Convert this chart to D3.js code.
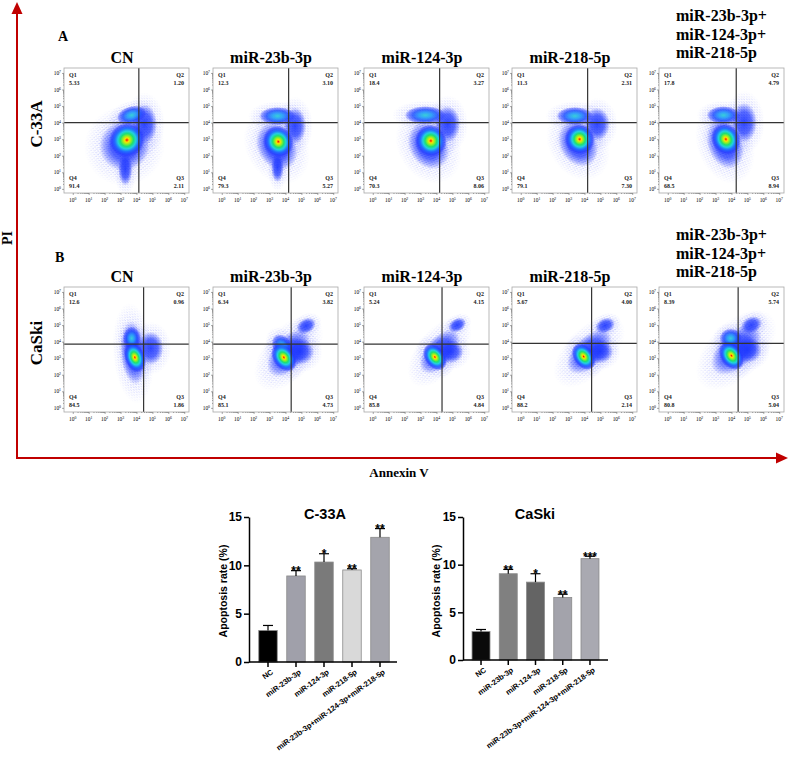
<!DOCTYPE html>
<html>
<head>
<meta charset="utf-8">
<script src="https://cdn.jsdelivr.net/npm/d3@7"></script>
<style>
  body { margin: 0; background: #fff; }
  svg { display: block; }
</style>
</head>
<body>
<div id="chart"></div>
<script>
// ---- data ----
const groups = ['CN', 'miR-23b-3p', 'miR-124-3p', 'miR-218-5p', 'miR-23b-3p+|miR-124-3p+|miR-218-5p'];
const cellLines = ['C-33A', 'CaSki'];
const logTicks = [0, 1, 2, 3, 4, 5, 6, 7];

// quadrant percentages per panel: Q1, Q2, Q3, Q4
const quadC33A = [
  ['5.33', '1.20', '2.11', '91.4'],
  ['12.3', '3.10', '5.27', '79.3'],
  ['18.4', '3.27', '8.06', '70.3'],
  ['11.3', '2.31', '7.30', '79.1'],
  ['17.8', '4.79', '8.94', '68.5']
];
const quadCaSki = [
  ['12.6', '0.96', '1.86', '84.5'],
  ['6.34', '3.82', '4.73', '85.1'],
  ['5.24', '4.15', '4.84', '85.8'],
  ['5.67', '4.00', '2.14', '88.2'],
  ['8.39', '5.74', '5.04', '80.8']
];

// gate positions (log10 Annexin V, log10 PI)
const gateC33A = [[4.15, 4.0], [4.2, 4.0], [4.2, 4.0], [4.2, 4.0], [4.3, 4.0]];
const gateCaSki = [[4.45, 3.85], [4.36, 3.85], [4.35, 3.85], [4.45, 3.9], [4.42, 3.9]];

// event clouds: [log x, log y, spread x, spread y, tilt deg, density]
const cloudC33A = [
  [[3.25, 2.6, 1.6, 1.5, 40, 'cool'], [3.3, 1.2, 0.45, 1.0, 0, 'cool'], [4.5, 3.9, 0.8, 1.2, 0, 'cool'],
   [3.7, 4.45, 0.95, 0.55, 15, 'warm'], [3.4, 2.95, 1.15, 1.05, 30, 'hot']],
  [[3.45, 2.55, 1.2, 1.5, 30, 'cool'], [3.5, 1.3, 0.4, 0.9, 0, 'cool'], [4.6, 3.8, 0.7, 1.1, 0, 'cool'],
   [3.5, 4.4, 1.15, 0.55, 0, 'warm'], [3.55, 2.85, 0.95, 1.0, 30, 'hot']],
  [[3.5, 2.6, 1.2, 1.5, 30, 'cool'], [4.7, 3.9, 0.8, 1.1, 0, 'cool'],
   [3.3, 4.45, 1.3, 0.55, 0, 'warm'], [3.65, 2.9, 1.0, 1.0, 30, 'hot']],
  [[3.6, 2.7, 1.15, 1.45, 30, 'cool'], [4.8, 3.9, 0.8, 1.0, 0, 'cool'],
   [3.4, 4.4, 1.15, 0.55, 0, 'warm'], [3.7, 3.0, 0.95, 0.95, 30, 'hot']],
  [[3.6, 2.7, 1.1, 1.55, 20, 'cool'], [4.8, 4.0, 0.8, 1.2, 0, 'cool'],
   [3.5, 4.45, 1.05, 0.55, 0, 'warm'], [3.65, 3.0, 0.9, 1.0, 30, 'hot']]
];
const cloudCaSki = [
  [[3.8, 3.3, 0.8, 1.9, 5, 'cool'], [4.9, 3.6, 0.8, 1.0, 0, 'cool'],
   [3.7, 4.2, 0.55, 0.7, 0, 'warm'], [3.9, 3.05, 0.65, 0.95, 20, 'hot']],
  [[4.2, 3.3, 1.75, 0.95, 50, 'cool'], [5.3, 4.95, 0.65, 0.45, 30, 'cool'], [4.9, 3.4, 0.9, 0.8, 0, 'cool'],
   [3.8, 3.7, 0.6, 0.8, 30, 'warm'], [3.9, 3.05, 0.7, 0.95, 35, 'hot']],
  [[4.2, 3.4, 1.65, 0.85, 50, 'cool'], [5.3, 5.0, 0.6, 0.4, 30, 'cool'], [4.9, 3.4, 0.8, 0.7, 0, 'cool'],
   [3.9, 3.07, 0.65, 0.9, 35, 'hot']],
  [[4.3, 3.4, 1.75, 0.9, 45, 'cool'], [5.3, 4.97, 0.65, 0.45, 25, 'cool'], [5.0, 3.4, 0.8, 0.7, 0, 'cool'],
   [3.95, 3.1, 0.65, 0.9, 35, 'hot']],
  [[4.3, 3.5, 1.95, 1.05, 45, 'cool'], [5.25, 5.0, 0.7, 0.5, 25, 'cool'], [5.0, 3.5, 0.9, 0.8, 0, 'cool'],
   [3.95, 4.2, 0.7, 0.6, 0, 'warm'], [4.0, 3.15, 0.7, 0.95, 35, 'hot']]
];

// bar charts
const barCats = ['NC', 'miR-23b-3p', 'miR-124-3p', 'miR-218-5p', 'miR-23b-3p+miR-124-3p+miR-218-5p'];
const rateC33A = [3.26, 8.9, 10.34, 9.52, 12.9];
const errC33A = [0.52, 0.55, 0.86, 0.13, 0.9];
const starsC33A = ['', '**', '*', '**', '**'];
const rateCaSki = [2.98, 9.05, 8.17, 6.56, 10.63];
const errCaSki = [0.22, 0.45, 0.88, 0.34, 0.25];
const starsCaSki = ['', '**', '*', '**', '***'];
const rateTicks = [0, 5, 10, 15];

// ---- layout ----
const SERIF = '"Liberation Serif", "Times New Roman", serif';
const SANS = '"Liberation Sans", Arial, sans-serif';
const BOX = 125;
const BOX_X = [64, 213, 364, 512, 659];
const ROW_TOP = [68, 287];
const RED = '#c00000';

const svg = d3.select('#chart').append('svg')
  .attr('width', 789).attr('height', 776);
svg.append('rect').attr('width', 789).attr('height', 776).attr('fill', '#fff');

const defs = svg.append('defs');

function radial(id, stops) {
  const gr = defs.append('radialGradient').attr('id', id);
  stops.forEach(s => gr.append('stop').attr('offset', s[0]).attr('stop-color', s[1]).attr('stop-opacity', s[2]));
}
radial('g-hot', [[0, '#e00000', 1], [0.05, '#ff6a00', 1], [0.12, '#ffe000', 1], [0.22, '#9cf020', 1],
  [0.36, '#1ee070', 1], [0.5, '#22cfe0', 1], [0.66, '#2070ff', 0.95], [0.84, '#2038ff', 0.6], [1, '#2a3aff', 0]]);
radial('g-warm', [[0, '#38cfd8', 1], [0.3, '#2a9ef8', 0.95], [0.6, '#2050ff', 0.85], [0.85, '#2438ff', 0.45], [1, '#2a3aff', 0]]);
radial('g-cool', [[0, '#1a34ff', 0.9], [0.55, '#1f38ff', 0.72], [0.8, '#2a40ff', 0.35], [1, '#3040ff', 0]]);
radial('g-fade', [[0, '#fff', 1], [0.5, '#ccc', 1], [0.8, '#555', 1], [1, '#000', 1]]);

const dots = defs.append('pattern').attr('id', 'dots')
  .attr('patternUnits', 'userSpaceOnUse').attr('width', 2.6).attr('height', 2.6);
dots.append('circle').attr('cx', 0.5).attr('cy', 0.7).attr('r', 0.4).attr('fill', '#2436ff');
dots.append('circle').attr('cx', 1.9).attr('cy', 2.0).attr('r', 0.36).attr('fill', '#2436ff');
dots.append('circle').attr('cx', 2.2).attr('cy', 0.5).attr('r', 0.28).attr('fill', '#5060ff');
dots.append('circle').attr('cx', 1.0).attr('cy', 1.8).attr('r', 0.22).attr('fill', '#6070ff');

defs.append('mask').attr('id', 'fade').attr('maskContentUnits', 'objectBoundingBox')
  .append('rect').attr('width', 1).attr('height', 1).attr('fill', 'url(#g-fade)');

const kindOrder = { cool: 0, warm: 1, hot: 2 };

const rows = [
  { letter: 'A', quad: quadC33A, gate: gateC33A, cloud: cloudC33A },
  { letter: 'B', quad: quadCaSki, gate: gateCaSki, cloud: cloudCaSki }
];

rows.forEach((row, r) => {
  const top = ROW_TOP[r];

  svg.append('text').attr('x', r ? 55 : 58).attr('y', top - (r ? 25 : 27))
    .attr('font-family', SERIF).attr('font-weight', 'bold').attr('font-size', 14)
    .text(row.letter);

  svg.append('text')
    .attr('transform', `translate(42,${top + 56}) rotate(-90)`)
    .attr('text-anchor', 'middle')
    .attr('font-family', SERIF).attr('font-weight', 'bold').attr('font-size', 17)
    .text(cellLines[r]);

  groups.forEach((name, i) => {
    const left = BOX_X[i];
    const x = d3.scaleLinear().domain([-0.55, 7.3]).range([left, left + BOX]);
    const y = d3.scaleLinear().domain([-0.25, 7.3]).range([top + BOX, top]);
    const g = svg.append('g');

    // title
    const lines = name.split('|');
    if (lines.length === 1) {
      g.append('text').attr('x', left + 58).attr('y', top - 5).attr('text-anchor', 'middle')
        .attr('font-family', SERIF).attr('font-weight', 'bold').attr('font-size', 16).text(name);
    } else {
      lines.forEach((ln, k) => {
        g.append('text').attr('x', 676).attr('y', top - 47 + k * 18.5)
          .attr('font-family', SERIF).attr('font-weight', 'bold').attr('font-size', 16).text(ln);
      });
    }

    // clouds
    const cid = `clip-${r}-${i}`;
    defs.append('clipPath').attr('id', cid)
      .append('rect').attr('x', left).attr('y', top).attr('width', BOX).attr('height', BOX);
    const plot = g.append('g').attr('clip-path', `url(#${cid})`);
    const dx = x(1) - x(0), dy = y(0) - y(1);
    const cl = row.cloud[i].slice().sort((a, b) => kindOrder[a[5]] - kindOrder[b[5]]);

    plot.selectAll('g.halo').data(cl).join('g').attr('class', 'halo')
      .attr('transform', d => `translate(${x(d[0])},${y(d[1])}) rotate(${-d[4]})`)
      .append('ellipse')
      .attr('rx', d => d[2] * dx * 1.6).attr('ry', d => d[3] * dy * 1.6)
      .attr('fill', 'url(#dots)').attr('mask', 'url(#fade)');

    plot.selectAll('g.blob').data(cl).join('g').attr('class', 'blob')
      .attr('transform', d => `translate(${x(d[0])},${y(d[1])}) rotate(${-d[4]})`)
      .append('ellipse')
      .attr('rx', d => d[2] * dx).attr('ry', d => d[3] * dy)
      .attr('fill', d => `url(#g-${d[5]})`);

    // gates
    const [gx, gy] = row.gate[i];
    g.append('line').attr('x1', x(gx)).attr('x2', x(gx)).attr('y1', top).attr('y2', top + BOX)
      .attr('stroke', '#333').attr('stroke-width', 1.2);
    g.append('line').attr('x1', left).attr('x2', left + BOX).attr('y1', y(gy)).attr('y2', y(gy))
      .attr('stroke', '#333').attr('stroke-width', 1.2);

    // frame
    g.append('rect').attr('x', left).attr('y', top).attr('width', BOX).attr('height', BOX)
      .attr('fill', 'none').attr('stroke', '#a8a8a8').attr('stroke-width', 0.8);

    // axes
    const minor = [];
    logTicks.slice(0, -1).forEach(t => [2, 3, 4, 5, 6, 7, 8, 9].forEach(k => minor.push(t + Math.log10(k))));
    g.append('g').attr('transform', `translate(${left},0)`)
      .call(d3.axisLeft(y).tickValues(logTicks).tickSize(2).tickFormat(''));
    g.append('g').attr('transform', `translate(${left},0)`)
      .call(d3.axisLeft(y).tickValues(minor).tickSize(1).tickFormat(''));
    g.append('g').attr('transform', `translate(0,${top + BOX})`)
      .call(d3.axisBottom(x).tickValues(logTicks).tickSize(2).tickFormat(''));
    g.append('g').attr('transform', `translate(0,${top + BOX})`)
      .call(d3.axisBottom(x).tickValues(minor).tickSize(1).tickFormat(''));
    g.selectAll('.domain').remove();
    g.selectAll('.tick line').attr('stroke', '#555').attr('stroke-width', 0.5);

    logTicks.forEach(t => {
      const ty = g.append('text').attr('x', left - 3).attr('y', y(t) + 2).attr('text-anchor', 'end')
        .attr('font-family', SERIF).attr('font-size', 5.4).text('10');
      ty.append('tspan').attr('dy', -2).attr('font-size', 3.8).text(t);
      const tx = g.append('text').attr('x', x(t)).attr('y', top + BOX + 9).attr('text-anchor', 'middle')
        .attr('font-family', SERIF).attr('font-size', 5.4).text('10');
      tx.append('tspan').attr('dy', -2).attr('font-size', 3.8).text(t);
    });

    // quadrant labels
    const q = row.quad[i];
    const qt = (tx, ty, anchor, s) => g.append('text').attr('x', tx).attr('y', ty).attr('text-anchor', anchor)
      .attr('font-family', SERIF).attr('font-weight', 'bold').attr('font-size', 6).attr('fill', '#222').text(s);
    qt(left + 5, top + 9, 'start', 'Q1'); qt(left + 5, top + 17, 'start', q[0]);
    qt(left + BOX - 5, top + 9, 'end', 'Q2'); qt(left + BOX - 5, top + 17, 'end', q[1]);
    qt(left + BOX - 5, top + BOX - 13, 'end', 'Q3'); qt(left + BOX - 5, top + BOX - 5, 'end', q[2]);
    qt(left + 5, top + BOX - 13, 'start', 'Q4'); qt(left + 5, top + BOX - 5, 'start', q[3]);
  });
});

// red arrows + axis names
svg.append('line').attr('x1', 17).attr('y1', 459).attr('x2', 17).attr('y2', 12)
  .attr('stroke', RED).attr('stroke-width', 2);
svg.append('path').attr('d', 'M17,2 L11.5,14 L22.5,14 Z').attr('fill', RED);
svg.append('line').attr('x1', 16).attr('y1', 458).attr('x2', 777).attr('y2', 458)
  .attr('stroke', RED).attr('stroke-width', 2);
svg.append('path').attr('d', 'M788,458 L776,452.5 L776,463.5 Z').attr('fill', RED);

svg.append('text').attr('transform', 'translate(12,238) rotate(-90)').attr('text-anchor', 'middle')
  .attr('font-family', SERIF).attr('font-weight', 'bold').attr('font-size', 14).text('PI');
svg.append('text').attr('x', 399).attr('y', 477).attr('text-anchor', 'middle')
  .attr('font-family', SERIF).attr('font-weight', 'bold').attr('font-size', 13).text('Annexin V');

// ---- bar charts ----
function barChart(cfg) {
  const x = d3.scaleBand().domain(barCats).range(cfg.xr).paddingInner(0.34).paddingOuter(0.17);
  const y = d3.scaleLinear().domain([0, 15]).range(cfg.yr);
  const g = svg.append('g').attr('font-family', SANS);

  g.selectAll('rect.bar').data(cfg.vals).join('rect').attr('class', 'bar')
    .attr('x', (d, i) => x(barCats[i])).attr('y', d => y(d))
    .attr('width', x.bandwidth()).attr('height', d => y(0) - y(d))
    .attr('fill', (d, i) => cfg.colors[i]).attr('stroke', '#8a8a8a').attr('stroke-width', 0.8);

  const cx = i => x(barCats[i]) + x.bandwidth() / 2;
  cfg.vals.forEach((v, i) => {
    const top = y(v + cfg.err[i]);
    g.append('line').attr('x1', cx(i)).attr('x2', cx(i)).attr('y1', y(v)).attr('y2', top)
      .attr('stroke', '#000').attr('stroke-width', 1.2);
    g.append('line').attr('x1', cx(i) - 5).attr('x2', cx(i) + 5).attr('y1', top).attr('y2', top)
      .attr('stroke', '#000').attr('stroke-width', 1.2);
    if (cfg.stars[i]) {
      g.append('text').attr('x', cx(i)).attr('y', top + 4.5).attr('text-anchor', 'middle')
        .attr('font-weight', 'bold').attr('font-size', 12).text(cfg.stars[i]);
    }
  });

  const ya = g.append('g').attr('transform', `translate(${cfg.ax},0)`)
    .call(d3.axisLeft(y).tickValues(rateTicks).tickSize(5).tickSizeOuter(0).tickPadding(2));
  ya.select('.domain').attr('stroke-width', 1.5);
  ya.selectAll('.tick line').attr('stroke-width', 1.5);
  ya.selectAll('.tick text').attr('font-family', SANS).attr('font-weight', 'bold').attr('font-size', 12)
    .attr('fill', '#000');

  g.append('line').attr('x1', cfg.ax).attr('x2', cfg.xEnd).attr('y1', y(0)).attr('y2', y(0))
    .attr('stroke', '#000').attr('stroke-width', 1.5);
  const xa = g.append('g').attr('transform', `translate(0,${y(0)})`)
    .call(d3.axisBottom(x).tickSize(5).tickSizeOuter(0));
  xa.select('.domain').remove();
  xa.selectAll('.tick line').attr('stroke-width', 1.5);
  xa.selectAll('.tick text')
    .attr('x', 0).attr('y', 0).attr('dy', '0.35em')
    .attr('transform', 'translate(4,9) rotate(-36)')
    .attr('text-anchor', 'end')
    .attr('font-family', SANS).attr('font-weight', 'bold').attr('font-size', 7.6).attr('fill', '#000');

  g.append('text').attr('x', cfg.titleX).attr('y', 519).attr('text-anchor', 'middle')
    .attr('font-weight', 'bold').attr('font-size', 14.5).text(cfg.title);
  g.append('text').attr('transform', `translate(${cfg.labelX},591) rotate(-90)`).attr('text-anchor', 'middle')
    .attr('font-weight', 'bold').attr('font-size', 10.5).text('Apoptosis rate (%)');
}

barChart({
  title: cellLines[0], vals: rateC33A, err: errC33A, stars: starsC33A,
  colors: ['#000000', '#a0a0aa', '#7a7a7a', '#d9d9d9', '#a4a4ac'],
  xr: [254, 394], yr: [662, 517], ax: 249, xEnd: 397, titleX: 325, labelX: 227
});
barChart({
  title: cellLines[1], vals: rateCaSki, err: errCaSki, stars: starsCaSki,
  colors: ['#0a0a0a', '#808080', '#646464', '#a3a3ab', '#a9a9b1'],
  xr: [467.4, 603.6], yr: [660, 517], ax: 463, xEnd: 608, titleX: 535, labelX: 440
});
</script>
</body>
</html>
